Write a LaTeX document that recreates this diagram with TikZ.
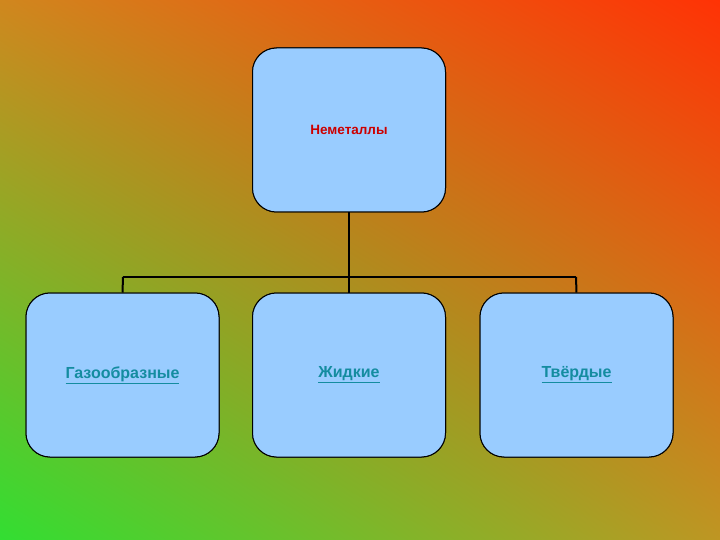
\documentclass[tikz,border=0pt]{standalone}
\usepackage{fontspec}
\setmainfont{Liberation Sans}
\usetikzlibrary{shadings}
\definecolor{boxfill}{RGB}{153,204,255}
\definecolor{ul}{RGB}{208,135,30}
\definecolor{ur}{RGB}{255,50,5}
\definecolor{ll}{RGB}{50,222,50}
\definecolor{lr}{RGB}{190,150,35}
\definecolor{tealtxt}{RGB}{20,140,160}
\definecolor{titlered}{RGB}{204,0,0}
\begin{document}
\begin{tikzpicture}[x=1pt,y=-1pt,
  box/.style={draw=black,fill=boxfill,rounded corners=24pt,minimum width=193pt,minimum height=164pt,line width=1pt,inner sep=0pt},
  lbl/.style={font=\bfseries\fontsize{16}{18}\selectfont,text=tealtxt},
  conn/.style={draw=black,line width=2pt}]
\useasboundingbox (0,0) rectangle (720,540);
\shade[upper left=ul,upper right=ur,lower left=ll,lower right=lr] (0,0) rectangle (720,540);
\coordinate (h) at (349,277);
\coordinate (hl) at (123,277);
\coordinate (hr) at (576,277);
\node[box] (top) at (349,130) {};
\node[box] (a) at (122.5,375) {};
\node[box] (b) at (349,375) {};
\node[box] (c) at (576.5,375) {};
\draw[conn] (top.south) -- (h);
\draw[conn] (hl) -- (hr);
\draw[conn] (hl) -- (a.north);
\draw[conn] (h) -- (b.north);
\draw[conn] (hr) -- (c.north);
\node[box] at (top) {};
\node[box] at (a) {};
\node[box] at (b) {};
\node[box] at (c) {};
\node[font=\bfseries\fontsize{13.5}{16}\selectfont,text=titlered] (tt) at (top) {Неметаллы};
\node[lbl] (ta) at (a) {\underline{Газообразные}};
\node[lbl] (tb) at (b) {\underline{Жидкие}};
\node[lbl] (tc) at (c) {\underline{Твёрдые}};
\end{tikzpicture}
\end{document}
